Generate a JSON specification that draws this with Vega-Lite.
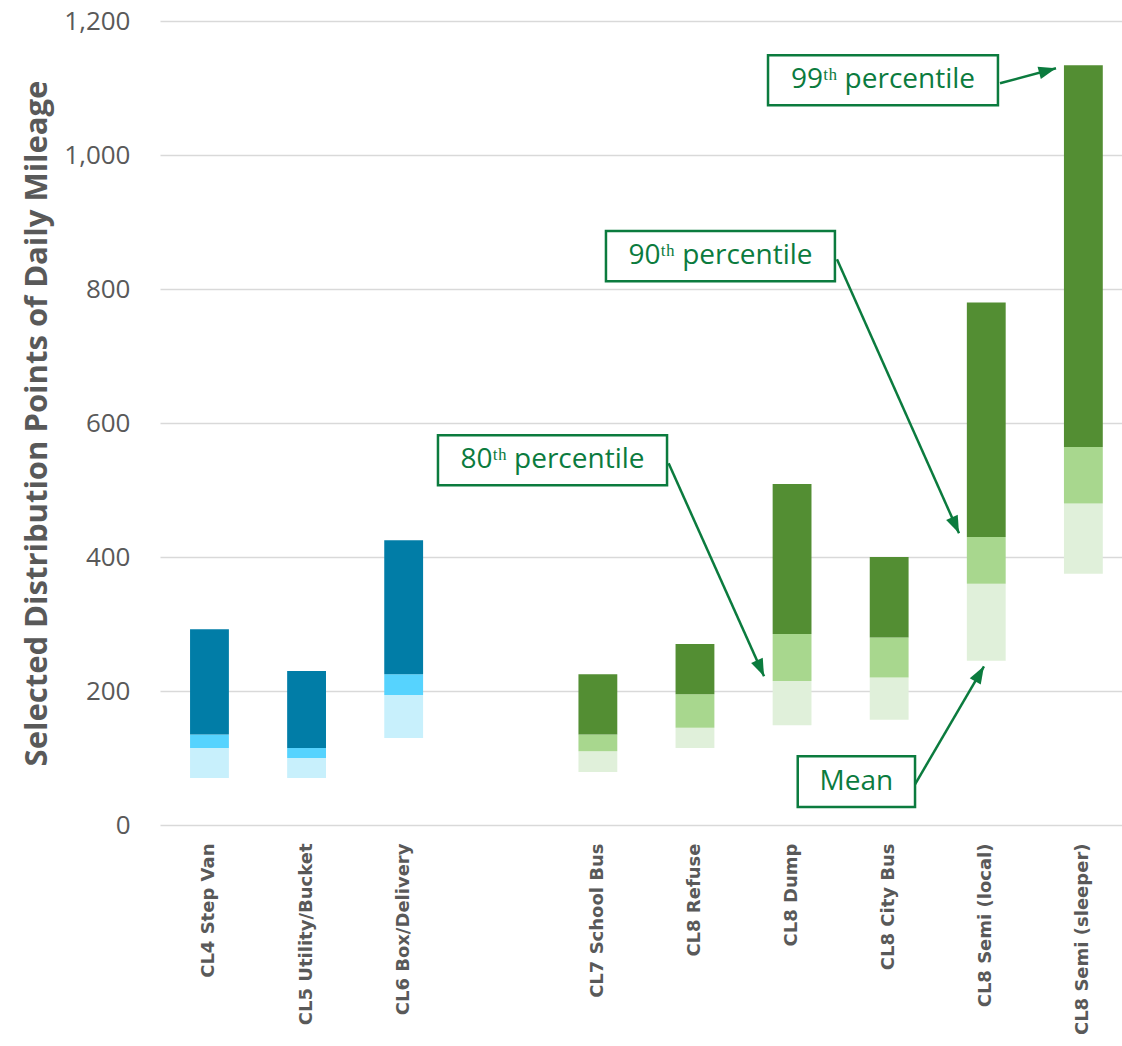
{
  "$schema": "https://vega.github.io/schema/vega-lite/v6.json",
  "width": 962,
  "height": 804,
  "autosize": "none",
  "padding": {"left": 160, "top": 21, "right": 0, "bottom": 221},
  "background": "white",
  "config": {"view": {"stroke": null}, "font": "Open Sans"},
  "datasets": {
    "bars": [
      {"vehicle": "CL4 Step Van", "series": "CL4-6 mean-80th", "low": 70, "high": 115},
      {"vehicle": "CL4 Step Van", "series": "CL4-6 80th-90th", "low": 115, "high": 135},
      {"vehicle": "CL4 Step Van", "series": "CL4-6 90th-99th", "low": 135, "high": 292},
      {"vehicle": "CL5 Utility/Bucket", "series": "CL4-6 mean-80th", "low": 70, "high": 100},
      {"vehicle": "CL5 Utility/Bucket", "series": "CL4-6 80th-90th", "low": 100, "high": 115},
      {"vehicle": "CL5 Utility/Bucket", "series": "CL4-6 90th-99th", "low": 115, "high": 230},
      {"vehicle": "CL6 Box/Delivery", "series": "CL4-6 mean-80th", "low": 130, "high": 194},
      {"vehicle": "CL6 Box/Delivery", "series": "CL4-6 80th-90th", "low": 194, "high": 225},
      {"vehicle": "CL6 Box/Delivery", "series": "CL4-6 90th-99th", "low": 225, "high": 425},
      {"vehicle": "CL7 School Bus", "series": "CL7-8 mean-80th", "low": 79, "high": 110},
      {"vehicle": "CL7 School Bus", "series": "CL7-8 80th-90th", "low": 110, "high": 135},
      {"vehicle": "CL7 School Bus", "series": "CL7-8 90th-99th", "low": 135, "high": 225},
      {"vehicle": "CL8 Refuse", "series": "CL7-8 mean-80th", "low": 115, "high": 145},
      {"vehicle": "CL8 Refuse", "series": "CL7-8 80th-90th", "low": 145, "high": 195},
      {"vehicle": "CL8 Refuse", "series": "CL7-8 90th-99th", "low": 195, "high": 270},
      {"vehicle": "CL8 Dump", "series": "CL7-8 mean-80th", "low": 149, "high": 215},
      {"vehicle": "CL8 Dump", "series": "CL7-8 80th-90th", "low": 215, "high": 285},
      {"vehicle": "CL8 Dump", "series": "CL7-8 90th-99th", "low": 285, "high": 509},
      {"vehicle": "CL8 City Bus", "series": "CL7-8 mean-80th", "low": 157, "high": 220},
      {"vehicle": "CL8 City Bus", "series": "CL7-8 80th-90th", "low": 220, "high": 280},
      {"vehicle": "CL8 City Bus", "series": "CL7-8 90th-99th", "low": 280, "high": 400},
      {"vehicle": "CL8 Semi (local)", "series": "CL7-8 mean-80th", "low": 245, "high": 360},
      {"vehicle": "CL8 Semi (local)", "series": "CL7-8 80th-90th", "low": 360, "high": 430},
      {"vehicle": "CL8 Semi (local)", "series": "CL7-8 90th-99th", "low": 430, "high": 780},
      {"vehicle": "CL8 Semi (sleeper)", "series": "CL7-8 mean-80th", "low": 375, "high": 480},
      {"vehicle": "CL8 Semi (sleeper)", "series": "CL7-8 80th-90th", "low": 480, "high": 564},
      {"vehicle": "CL8 Semi (sleeper)", "series": "CL7-8 90th-99th", "low": 564, "high": 1134}
    ],
    "callouts": [
      {"label": "99ᵗʰ percentile", "key": "p99", "x1": 5.752, "x2": 8.12, "y1": 1074.2, "y2": 1148.8, "cx": 6.936, "cy": 1111.5, "ax": 8.141, "ay": 1107.0, "tx": 8.718, "ty": 1129.4},
      {"label": "90ᵗʰ percentile", "key": "p90", "x1": 4.083, "x2": 6.441, "y1": 811.5, "y2": 886.6, "cx": 5.263, "cy": 848.8, "ax": 6.462, "ay": 844.3, "tx": 7.719, "ty": 435.4},
      {"label": "80ᵗʰ percentile", "key": "p80", "x1": 2.353, "x2": 4.712, "y1": 507.0, "y2": 581.6, "cx": 3.532, "cy": 544.3, "ax": 4.728, "ay": 539.9, "tx": 5.711, "ty": 222.0},
      {"label": "Mean", "key": "mean", "x1": 6.058, "x2": 7.266, "y1": 26.9, "y2": 102.5, "cx": 6.662, "cy": 64.6, "ax": 7.266, "ay": 60.7, "tx": 7.976, "ty": 236.9}
    ]
  },
  "layer": [
    {
      "data": {"name": "bars"},
      "mark": {"type": "bar"},
      "encoding": {
        "x": {
          "field": "vehicle",
          "type": "nominal",
          "scale": {
            "domain": ["CL4 Step Van", "CL5 Utility/Bucket", "CL6 Box/Delivery", " ", "CL7 School Bus", "CL8 Refuse", "CL8 Dump", "CL8 City Bus", "CL8 Semi (local)", "CL8 Semi (sleeper)"],
            "paddingInner": 0.6,
            "paddingOuter": 0.2537,
            "align": 0.61
          },
          "axis": {
            "title": null,
            "labelAngle": -90,
            "labelFont": "DejaVu Sans",
            "labelFontWeight": "bold",
            "labelFontSize": 18,
            "labelLimit": 400,
            "labelColor": "#595959",
            "labelPadding": 18,
            "ticks": false,
            "domain": false,
            "grid": false
          }
        },
        "y": {
          "field": "low",
          "type": "quantitative",
          "scale": {"domain": [0, 1200], "nice": false},
          "axis": {
            "title": "Selected Distribution Points of Daily Mileage",
            "titleFont": "Open Sans",
            "titleFontSize": 31,
            "titleFontWeight": "bold",
            "titleColor": "#595959",
            "titlePadding": 10,
            "values": [0, 200, 400, 600, 800, 1000, 1200],
            "format": ",d",
            "labelFont": "Open Sans",
            "labelFontSize": 26,
            "labelColor": "#595959",
            "labelPadding": 30,
            "ticks": false,
            "domain": false,
            "grid": true,
            "gridColor": "#D9D9D9",
            "gridWidth": 1.5
          }
        },
        "y2": {"field": "high"},
        "color": {
          "field": "series",
          "type": "nominal",
          "scale": {
            "domain": ["CL4-6 mean-80th", "CL4-6 80th-90th", "CL4-6 90th-99th", "CL7-8 mean-80th", "CL7-8 80th-90th", "CL7-8 90th-99th"],
            "range": ["#C8F0FC", "#56D3FE", "#017DA7", "#E0F0DA", "#A8D78E", "#538E33"]
          },
          "legend": null
        }
      }
    },
    {
      "data": {"name": "callouts"},
      "mark": {"type": "rule", "stroke": "#0B7B3E", "strokeWidth": 2.5},
      "encoding": {
        "x": {"field": "ax", "type": "quantitative", "scale": {"domain": [-0.5098, 9.3975], "nice": false, "zero": false}, "axis": null},
        "x2": {"field": "tx"},
        "y": {"field": "ay", "type": "quantitative"},
        "y2": {"field": "ty"}
      }
    },
    {
      "data": {"name": "callouts"},
      "mark": {"type": "point", "filled": true, "opacity": 1, "color": "#0B7B3E", "shape": "M0,0L-0.62,1.7L0.62,1.7Z", "size": 420},
      "encoding": {
        "x": {"field": "tx", "type": "quantitative", "scale": {"domain": [-0.5098, 9.3975], "nice": false, "zero": false}, "axis": null},
        "y": {"field": "ty", "type": "quantitative"},
        "angle": {
          "condition": [
            {"test": "datum.key === 'p99'", "value": 75},
            {"test": "datum.key === 'p90'", "value": 156},
            {"test": "datum.key === 'p80'", "value": 156}
          ],
          "value": 30
        }
      }
    },
    {
      "data": {"name": "callouts"},
      "mark": {"type": "rect", "fill": "white", "stroke": "#0B7B3E", "strokeWidth": 2.5},
      "encoding": {
        "x": {"field": "x1", "type": "quantitative", "scale": {"domain": [-0.5098, 9.3975], "nice": false, "zero": false}, "axis": null},
        "x2": {"field": "x2"},
        "y": {"field": "y1", "type": "quantitative"},
        "y2": {"field": "y2"}
      }
    },
    {
      "data": {"name": "callouts"},
      "mark": {"type": "text", "font": "Open Sans", "fontSize": 28, "color": "#0B7B3E", "align": "center", "baseline": "middle"},
      "encoding": {
        "x": {"field": "cx", "type": "quantitative", "scale": {"domain": [-0.5098, 9.3975], "nice": false, "zero": false}, "axis": null},
        "y": {"field": "cy", "type": "quantitative"},
        "text": {"field": "label"}
      }
    }
  ],
  "resolve": {"scale": {"x": "independent"}}
}
